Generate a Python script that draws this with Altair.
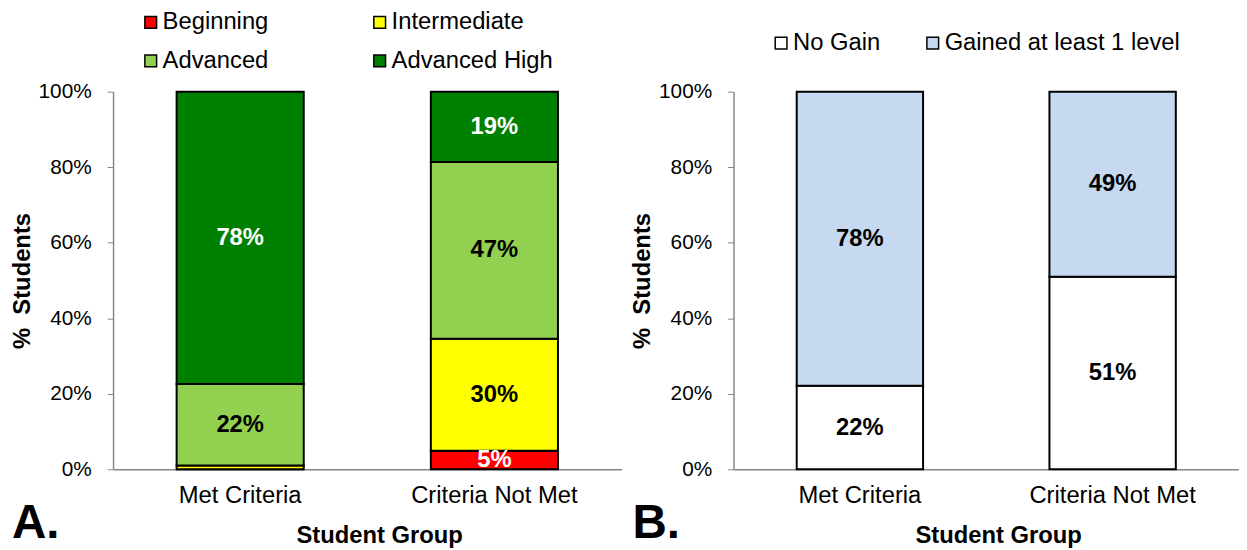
import altair as alt
import pandas as pd

FONT = "Liberation Sans"

groups = ["Met Criteria", "Criteria Not Met"]

levels = ["Beginning", "Intermediate", "Advanced", "Advanced High"]
level_colors = ["#FF0000", "#FFFF00", "#92D050", "#008000"]
level_text_colors = ["white", "black", "black", "white"]
met_levels = [0.0, 1.0, 21.6, 77.4]
notmet_levels = [4.9, 29.7, 46.8, 18.6]
met_level_labels = ["", "", "22%", "78%"]
notmet_level_labels = ["5%", "30%", "47%", "19%"]

gains = ["No Gain", "Gained at least 1 level"]
gain_colors = ["#FFFFFF", "#C6D9F1"]
gain_text_colors = ["black", "black"]
met_gains = [22.1, 77.9]
notmet_gains = [51.0, 49.0]
met_gain_labels = ["22%", "78%"]
notmet_gain_labels = ["51%", "49%"]

panel_letters = ["A.", "B."]
y_ticks = [0, 20, 40, 60, 80, 100]
y_title = "% \u00a0Students"
x_title = "Student Group"

W_A, W_B, H = 513, 510, 381


def make_df(cats, colors_txt, met_vals, notmet_vals, met_lab, notmet_lab):
    rows = []
    for g, vals, labs in [(groups[0], met_vals, met_lab), (groups[1], notmet_vals, notmet_lab)]:
        for i, (c, v, l) in enumerate(zip(cats, vals, labs)):
            rows.append({"group": g, "cat": c, "order": i, "value": v,
                         "label": l, "tcolor": colors_txt[i]})
    return pd.DataFrame(rows)


def panel(df, cats, colors, letter, width, legend_x, legend_y, col_pad, columns):
    base = alt.Chart(df).transform_stack(
        stack="value", groupby=["group"], as_=["y0", "y1"],
        sort=[alt.SortField("order", order="ascending")]
    ).transform_calculate(mid="(datum.y0 + datum.y1) / 2")

    x_enc = alt.X(
        "group:N", sort=groups,
        scale=alt.Scale(paddingInner=0.5, paddingOuter=0.25),
        axis=alt.Axis(title=x_title, labelAngle=0, ticks=False, tickSize=0,
                      labelPadding=15, titlePadding=16, domainColor="#868686",
                      domainWidth=1.5, labelFontSize=24, titleFontSize=24,
                      titleFontWeight="bold", labelColor="black", titleColor="black",
                      titleX=width / 2 + 12),
    )
    y_scale = alt.Scale(domain=[0, 100], nice=False)

    bars = base.mark_bar(stroke="black", strokeWidth=2).encode(
        x=x_enc,
        y=alt.Y("y0:Q", scale=y_scale, axis=alt.Axis(
            values=y_ticks, labelExpr="datum.value + '%'", title=y_title,
            tickSize=6, labelPadding=16, titlePadding=4, grid=False,
            domainColor="#868686", tickColor="#868686", domainWidth=1.5,
            labelFontSize=21, titleFontSize=24, titleFontWeight="bold",
            labelColor="black", titleColor="black")),
        y2="y1:Q",
        color=alt.Color("cat:N", scale=alt.Scale(domain=cats, range=colors),
                        legend=alt.Legend(
                            orient="none", legendX=legend_x, legendY=legend_y,
                            columns=columns, direction="horizontal",
                            title=None, padding=0,
                            symbolType="square", symbolSize=140,
                            symbolStrokeColor="black", symbolStrokeWidth=1.5,
                            symbolOpacity=1, labelFontSize=24, labelColor="black",
                            labelOffset=0, columnPadding=col_pad, rowPadding=15,
                            labelLimit=400)),
    )

    text = base.mark_text(fontSize=24, fontWeight="bold", font=FONT).encode(
        x=alt.X("group:N", sort=groups),
        y=alt.Y("mid:Q", scale=y_scale),
        text="label:N",
        fill=alt.Fill("tcolor:N", scale=None, legend=None),
    )

    letter_mark = alt.Chart(pd.DataFrame({"t": [letter]})).mark_text(
        align="left", baseline="alphabetic", fontSize=48, fontWeight="bold",
        font=FONT, color="black"
    ).encode(x=alt.value(-102), y=alt.value(H + 69), text="t:N")

    return alt.layer(bars, text, letter_mark).properties(width=width, height=H)


dfA = make_df(levels, level_text_colors, met_levels, notmet_levels,
              met_level_labels, notmet_level_labels)
dfB = make_df(gains, gain_text_colors, met_gains, notmet_gains,
              met_gain_labels, notmet_gain_labels)

chartA = panel(dfA, levels, level_colors, panel_letters[0], W_A, 26, -82, 100, 2)
chartB = panel(dfB, gains, gain_colors, panel_letters[1], W_B, 36, -61, 40, 2)

chart = alt.hconcat(chartA, chartB, spacing=113, bounds="flush").resolve_scale(
    color="independent", fill="independent"
).resolve_legend(color="independent").properties(
    padding={"left": 2, "top": 0, "right": 0, "bottom": 0}
).configure(font=FONT).configure_view(stroke=None)

chart.save("out.html", embed_options={"renderer": "svg", "actions": False})
